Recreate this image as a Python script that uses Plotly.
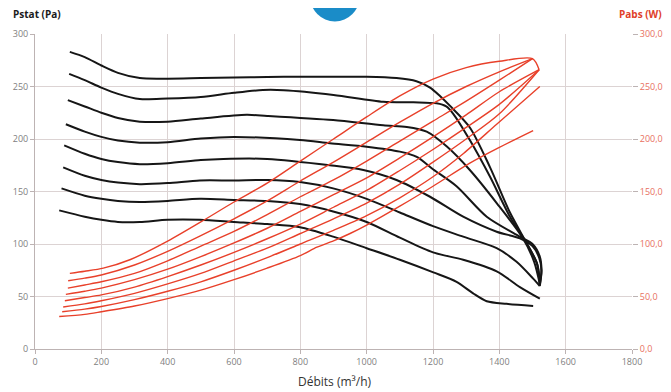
import plotly.graph_objects as go

# ---- axis ticks ----
debit_ticks = [0, 200, 400, 600, 800, 1000, 1200, 1400, 1600, 1800]
pstat_ticks = [0, 50, 100, 150, 200, 250, 300]
pabs_ticks = [0, 50, 100, 150, 200, 250, 300]
pabs_labels = ["0,0", "50,0", "100,0", "150,0", "200,0", "250,0", "300,0"]

# ---- Pstat (Pa) curves, black ----
pstat_1_x = [105, 150, 200, 250, 316, 400, 500, 600, 700, 800, 900, 1000, 1090, 1150, 1191, 1221, 1250, 1311, 1372, 1432, 1482, 1513, 1522]
pstat_1_y = [283, 278, 270, 263, 258, 257.5, 258, 258.5, 259, 259.3, 259.3, 259.3, 258, 255, 249, 241, 232, 211, 173, 130, 101, 82, 62]
pstat_2_x = [103, 150, 200, 250, 316, 400, 500, 600, 687, 750, 900, 1050, 1141, 1211, 1240, 1261, 1311, 1372, 1432, 1482, 1515, 1522]
pstat_2_y = [262, 256, 249, 243, 238, 238.5, 240, 244, 246.7, 246.5, 242, 235.5, 235, 234, 231, 224, 199, 164, 126, 101, 80, 62]
pstat_3_x = [99, 150, 200, 250, 316, 400, 500, 638, 700, 899, 1050, 1121, 1181, 1241, 1311, 1392, 1472, 1505, 1522]
pstat_3_y = [237, 231, 225, 220, 216.5, 216.5, 219.5, 223, 222, 218, 213, 211.5, 207, 193, 170.5, 139, 105, 83, 62]
pstat_4_x = [93, 150, 200, 250, 316, 400, 500, 600, 799, 889, 1000, 1100, 1151, 1201, 1271, 1362, 1462, 1500, 1522, 1527, 1522]
pstat_4_y = [214, 207, 202, 198.5, 196.5, 197, 200.5, 202, 199, 196, 192.7, 188, 183, 171, 155, 126, 107, 100, 88, 75, 61]
pstat_5_x = [88, 150, 200, 250, 316, 400, 500, 568, 700, 889, 990, 1090, 1191, 1291, 1392, 1462, 1500, 1520, 1527, 1522]
pstat_5_y = [194, 186, 181, 178, 176, 177, 180, 181, 181, 175, 170.5, 161, 145, 126, 111.7, 105.4, 98, 87, 75, 60]
pstat_6_x = [85, 150, 200, 250, 316, 400, 497, 600, 700, 799, 899, 1000, 1100, 1200, 1291, 1392, 1452, 1502, 1522]
pstat_6_y = [173, 165, 161, 158.5, 157, 158, 160.5, 160.5, 161, 159, 153, 143, 130, 117, 107, 96, 83, 67, 60]
pstat_7_x = [80, 150, 200, 250, 316, 400, 497, 600, 700, 799, 899, 1000, 1100, 1200, 1291, 1392, 1462, 1522]
pstat_7_y = [153, 146, 143, 141, 140, 141, 143, 142, 141, 138, 131, 121, 106, 92, 85, 74, 59, 48]
pstat_8_x = [73, 150, 200, 250, 316, 400, 497, 600, 700, 799, 899, 1000, 1100, 1201, 1271, 1321, 1362, 1422, 1502]
pstat_8_y = [132, 126, 123, 121, 121, 123, 123, 121, 119, 116, 107, 96, 85, 73, 64, 53, 45.5, 43, 41]

# ---- Pabs (W) curves, red ----
pabs_1_x = [105, 150, 206, 286, 407, 500, 600, 700, 800, 900, 1000, 1100, 1200, 1300, 1400, 1500, 1520]
pabs_1_y = [72, 74, 77, 85, 104, 121, 140, 158, 179, 200, 221, 241, 257, 268, 274, 276.5, 266]
pabs_2_x = [100, 150, 200, 300, 400, 500, 600, 700, 800, 900, 1000, 1100, 1200, 1300, 1400, 1500]
pabs_2_y = [65, 67.5, 70.5, 80, 93, 108, 124, 141, 160, 178, 197, 216, 234, 250, 264, 276.5]
pabs_3_x = [99, 150, 200, 300, 400, 500, 600, 700, 800, 900, 1000, 1100, 1200, 1300, 1400, 1500]
pabs_3_y = [58, 61, 64, 72, 84, 98, 112, 128, 145, 161, 179, 198, 217, 236, 256, 276.5]
pabs_4_x = [93, 150, 200, 300, 400, 500, 600, 700, 800, 900, 1000, 1100, 1200, 1300, 1400, 1520]
pabs_4_y = [52, 55, 58, 66, 76, 88, 101, 115, 131, 147, 163, 182, 202, 223, 245, 266]
pabs_5_x = [90, 150, 200, 300, 400, 500, 600, 700, 800, 900, 1000, 1100, 1200, 1300, 1400, 1520]
pabs_5_y = [46, 49, 51.5, 59, 69, 80, 92, 105, 119, 135, 151, 170, 190, 211, 233, 266]
pabs_6_x = [85, 150, 200, 300, 400, 500, 600, 700, 800, 900, 1000, 1100, 1200, 1300, 1400, 1520]
pabs_6_y = [40, 43, 46, 53, 62, 72, 84, 96, 110, 124, 139, 157, 178, 200, 224, 266]
pabs_7_x = [82, 150, 200, 300, 400, 500, 600, 700, 800, 900, 1000, 1100, 1200, 1291, 1392, 1522]
pabs_7_y = [35.5, 38, 40.5, 47, 55, 64, 75, 87, 100, 113, 127, 144, 164, 186, 214, 250]
pabs_8_x = [73, 150, 200, 300, 400, 500, 600, 700, 800, 850, 900, 950, 1000, 1100, 1200, 1311, 1400, 1502]
pabs_8_y = [31, 33, 35.5, 41, 48, 56, 66, 77, 89, 97, 103, 110, 118, 136, 155, 177, 192, 208]

pstat_series = [(pstat_1_x, pstat_1_y), (pstat_2_x, pstat_2_y), (pstat_3_x, pstat_3_y),
                (pstat_4_x, pstat_4_y), (pstat_5_x, pstat_5_y), (pstat_6_x, pstat_6_y),
                (pstat_7_x, pstat_7_y), (pstat_8_x, pstat_8_y)]
pabs_series = [(pabs_1_x, pabs_1_y), (pabs_2_x, pabs_2_y), (pabs_3_x, pabs_3_y),
               (pabs_4_x, pabs_4_y), (pabs_5_x, pabs_5_y), (pabs_6_x, pabs_6_y),
               (pabs_7_x, pabs_7_y), (pabs_8_x, pabs_8_y)]

BLACK = "#161616"
RED = "#e8402a"
GRID = "#dcd3d3"
FONT = "Open Sans"

fig = go.Figure()
for x, y in pstat_series:
    fig.add_trace(go.Scatter(x=x, y=y, mode="lines", yaxis="y",
                             line=dict(color=BLACK, width=2, shape="spline", smoothing=0.8),
                             showlegend=False, hoverinfo="skip"))
for x, y in pabs_series:
    fig.add_trace(go.Scatter(x=x, y=y, mode="lines", yaxis="y2",
                             line=dict(color=RED, width=1.4, shape="spline", smoothing=0.8),
                             showlegend=False, hoverinfo="skip"))

# The page body keeps the browser's default 8px margin, so the figure is
# sized 8px smaller and its margins shifted to land the plot area in place.
fig.update_layout(
    width=663, height=384,
    margin=dict(l=27, r=39, t=26, b=43, autoexpand=False),
    paper_bgcolor="white", plot_bgcolor="white",
    font=dict(family=FONT, size=9, color="#808080"),
    xaxis=dict(range=[0, 1800], tickvals=debit_ticks, showgrid=True, gridcolor=GRID,
               gridwidth=1, zeroline=False, showline=True, linecolor="#bdb3b3",
               ticks="outside", ticklen=4, tickcolor="#bdb3b3", automargin=False,
               tickfont=dict(size=9, color="#808080", family=FONT)),
    yaxis=dict(range=[0, 300], tickvals=pstat_ticks, showgrid=True, gridcolor=GRID,
               gridwidth=1, zeroline=False, showline=True, linecolor="#bdb3b3",
               ticks="outside", ticklen=4, tickcolor="#bdb3b3", automargin=False,
               tickfont=dict(size=9, color="#808080", family=FONT)),
    yaxis2=dict(range=[0, 300], tickvals=pabs_ticks, ticktext=pabs_labels,
                overlaying="y", side="right", showgrid=False, zeroline=False,
                showline=False, ticks="outside", ticklen=5, tickcolor="#bdb3b3",
                automargin=False,
                tickfont=dict(size=9, color="#e8705e", family=FONT)),
    annotations=[
        dict(text="<b>Pstat (Pa)</b>", xref="paper", yref="paper", x=-0.040, y=1.063,
             xanchor="left", yanchor="middle", showarrow=False,
             font=dict(size=10, color="#1a1a1a", family=FONT)),
        dict(text="<b>Pabs (W)</b>", xref="paper", yref="paper", x=1.054, y=1.063,
             xanchor="right", yanchor="middle", showarrow=False,
             font=dict(size=10, color="#e0402a", family=FONT)),
        dict(text="Débits (m³/h)", xref="paper", yref="paper", x=0.5025, y=-0.102,
             xanchor="center", yanchor="middle", showarrow=False,
             font=dict(size=12, color="#333333", family=FONT)),
    ],
    shapes=[
        dict(type="circle", xref="paper", yref="paper", x0=0.4606, x1=0.544,
             y0=1.040, y1=1.200, fillcolor="#1a8cc8", line=dict(width=0), layer="above"),
    ],
)

fig.write_html("out.html")
